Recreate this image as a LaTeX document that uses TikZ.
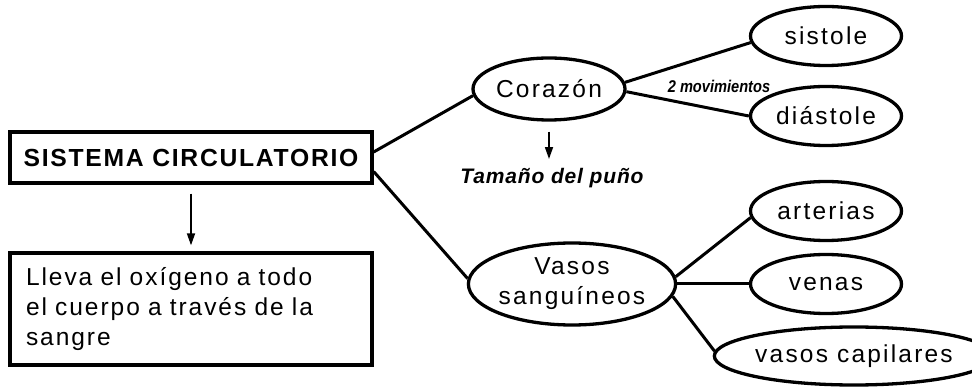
\documentclass[tikz,border=0pt]{standalone}
\usepackage{fontspec}
\setmainfont{Liberation Sans}
\usetikzlibrary{positioning,shapes.geometric,arrows.meta}

\begin{document}
\begin{tikzpicture}[x=1pt,y=-1pt,
    oval/.style={ellipse, draw, line width=3.3pt, minimum width=151pt, minimum height=59pt, inner sep=0pt, align=center,
      font=\fontsize{24.5}{30}\selectfont\addfontfeature{LetterSpace=9}},
    caja/.style={rectangle, draw, line width=3.3pt, minimum width=362pt},
    rama/.style={line width=3pt},
    flecha/.style={line width=1.7pt, -{Triangle[length=12pt,width=8pt]}}]
  \useasboundingbox (0,0) rectangle (972,387);

  % caja principal y su descripcion
  \node[caja, minimum height=51pt, font=\fontsize{24.7}{28}\selectfont\bfseries\addfontfeature{LetterSpace=7}] (sistema) at (191,157.5) {SISTEMA CIRCULATORIO};
  \node[caja, minimum height=112pt, text width=330pt, inner xsep=16pt, align=left,
    font=\fontsize{24.5}{30}\selectfont\addfontfeature{LetterSpace=8}] (lleva) at (191,309)
    {Lleva el oxígeno a todo\\el cuerpo a través de la\\sangre};

  % ovalos
  \node[oval, minimum width=152pt, minimum height=62pt] (corazon) at (549,89) {Corazón};
  \node[oval] (sistole) at (826,36) {sistole};
  \node[oval] (diastole) at (826,116) {diástole};
  \node[oval, minimum width=199pt, minimum height=82pt] (vasos) at (572,284) {Vasos\\sanguíneos};
  \node[oval] (arterias) at (826,211) {arterias};
  \node[oval] (venas) at (826,284) {venas};
  \node[oval, minimum width=212pt, minimum height=58pt] (capilares) at (854,356) {vasos capilares};

  % textos sueltos
  \node[inner sep=0pt, font=\fontsize{17}{19}\selectfont\bfseries\itshape\addfontfeature{FakeStretch=0.86}] (movimientos) at (719,86) {2 movimientos};
  \node[inner sep=0pt, font=\fontsize{21}{24}\selectfont\bfseries\itshape\addfontfeature{LetterSpace=4}] (tamano) at (552,178) {Tamaño del puño};

  % ramas
  \draw[rama] ([yshift=5.5pt]sistema.east) -- (corazon.185);
  \draw[rama] ([yshift=-14pt]sistema.east) -- (vasos.177);
  \draw[rama] (corazon.5) -- (sistole.185);
  \draw[rama] (corazon.-2) -- (diastole.west);
  \draw[rama] (vasos.4) -- (arterias.185);
  \draw[rama] (vasos.east) -- (venas.west);
  \draw[rama] (vasos.-7) -- (capilares.178);

  % flechas
  \draw[flecha, shorten <=9pt, shorten >=6pt] (sistema.south) -- (lleva.north);
  \draw[flecha, shorten <=10pt, shorten >=9pt] (corazon.south) -- (corazon.south |- tamano.north);
\end{tikzpicture}
\end{document}
